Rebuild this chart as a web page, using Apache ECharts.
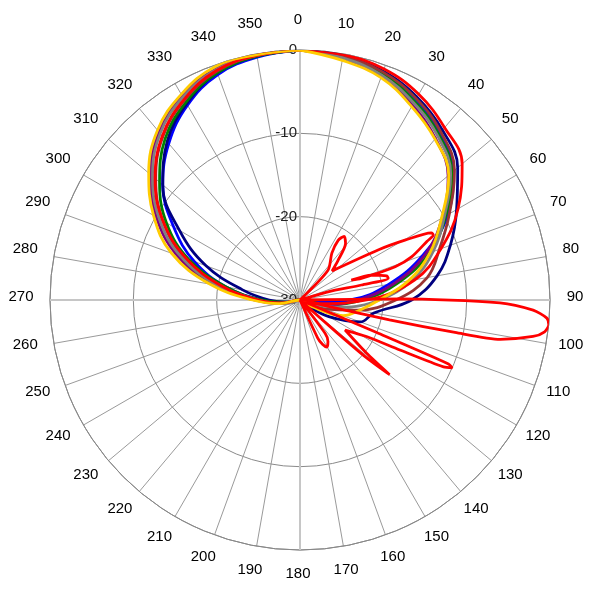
<!DOCTYPE html>
<html><head><meta charset="utf-8">
<script src="https://cdn.jsdelivr.net/npm/echarts@6/dist/echarts.min.js"></script>
<style>html,body{margin:0;padding:0;background:#fff}#c{width:600px;height:600px}</style>
</head><body><div id="c"></div>
<script>
// angles (degrees) for the main-beam traces
const angles = [0,10,20,30,40,50,60,70,80,90,100,110,120,130,140,150,160,170,180,190,200,210,220,230,240,250,260,270,280,290,300,310,320,330,340,350];
// angle tick labels
const angleTicks = angles.slice();
// relative level in dB at each angle
const blueDb   = [0,-0.3,-0.9,-2.2,-3.9,-6.0,-9.5,-14.3,-19.2,-24.0,-28.5,-30,-30,-30,-30,-30,-30,-30,-30,-30,-30,-30,-30,-30,-30,-30,-28.5,-25.5,-21,-16.5,-12.5,-8.5,-5.5,-3.0,-1.2,-0.4];
const navyDb   = [0,-0.2,-0.8,-1.9,-3.4,-5.3,-8.3,-10.8,-13.3,-16.6,-21.0,-22.3,-26,-29,-30,-30,-30,-30,-30,-30,-30,-30,-30,-30,-30,-30,-28.5,-26.3,-23,-18,-13.3,-8.5,-5.2,-2.8,-1.0,-0.3];
const greenDb  = [0,-0.4,-1.1,-2.5,-4.1,-6.2,-9.8,-13.5,-18.0,-22.5,-26.5,-30,-30,-30,-30,-30,-30,-30,-30,-30,-30,-30,-30,-30,-30,-30,-28.5,-25.5,-21,-15.8,-11.5,-8.0,-4.8,-2.6,-1.0,-0.3];
const purpleDb = [0,-0.6,-1.5,-3.0,-4.7,-6.8,-10.3,-14.0,-18.5,-23.0,-26.5,-29,-30,-30,-30,-30,-30,-30,-30,-30,-30,-30,-30,-30,-30,-30,-27.5,-24.5,-19.5,-14.3,-10.1,-6.6,-3.7,-1.7,-0.5,-0.1];
const brownDb  = [0,-0.3,-0.9,-2.1,-3.7,-5.8,-9.3,-12.2,-14.5,-18.5,-23.0,-27.0,-30,-30,-30,-30,-30,-30,-30,-30,-30,-30,-30,-30,-30,-30,-28,-25,-20.5,-15.3,-11.0,-7.4,-4.4,-2.3,-0.8,-0.2];
const grayDb   = [0,-0.5,-1.3,-2.7,-4.3,-6.4,-10.0,-13.0,-16.3,-20.5,-25.0,-28.5,-30,-30,-30,-30,-30,-30,-30,-30,-30,-30,-30,-30,-30,-29,-27.5,-25,-20,-14.8,-10.5,-6.9,-3.9,-1.9,-0.6,-0.2];
const redDb    = [0,-0.1,-0.5,-1.5,-3.0,-4.6,-8.1,-12.0,-16.0,-22.0,-27.5,-30,-30,-30,-30,-30,-30,-30,-30,-30,-30,-30,-30,-30,-30,-30,-28,-25,-20.5,-15.5,-11.0,-7.3,-4.3,-2.2,-0.7,-0.2];
const goldDb   = [0,-0.8,-1.6,-3.2,-4.8,-6.7,-10.4,-13.4,-16.8,-20.5,-22.8,-24.5,-28.5,-30,-30,-30,-30,-30,-30,-30,-30,-30,-30,-30,-30,-30,-27.5,-24.3,-19.0,-13.6,-9.7,-6.3,-3.4,-1.5,-0.2,-0.1];
// multi-lobe red trace, in measured order
const lobeAngles = [0,40,43.3,34.2,32.6,34.7,38.9,43.8,47.8,57.4,60.3,62.9,64.0,65.2,68.8,70.7,70.6,68.9,70.8,74.5,76.2,76.3,73.7,80,88.5,89.4,90.8,92.5,94.2,95.7,97.4,98.9,101.1,101.8,102.5,104,112.8,113,113.3,114,115,116.6,118.8,123.7,128.6,129.8,131,131.5,132,140,143,146,150.3,153,155,158,360];
const lobeDb     = [-30,-30,-25.1,-23.2,-21.5,-20.7,-21.3,-23.4,-24.8,-18.8,-15.5,-12.3,-12.2,-13.2,-15.6,-17.9,-22.2,-23.4,-20.9,-19.2,-19.1,-22.4,-26.5,-30,-30,-18,-6.0,-2.0,-0.3,0,-0.4,-1.7,-5.5,-11,-19,-30,-30,-20,-10.6,-10.0,-11.0,-16.6,-20.9,-23.5,-19.8,-16.0,-19.5,-24,-30,-30,-25,-24,-23.5,-24,-25,-30,-30];
const radiusTicks = [-30,-20,-10,0];

const chart = echarts.init(document.getElementById('c'));
function closed(vals){ const d = angles.map((a,i)=>[vals[i], a]); d.push([vals[0], 360]); return d; }
function mk(name, color, data, smooth){
  return {name:name, type:'line', coordinateSystem:'polar', polarIndex:0, data:data, showSymbol:false, symbol:'none',
    smooth:smooth, lineStyle:{color:color, width:2.8}, itemStyle:{color:color}, animation:false};
}
const FONT = 'Liberation Sans, Arial, sans-serif';
const rMax = radiusTicks[radiusTicks.length-1];
chart.setOption({
  animation:false,
  backgroundColor:'#ffffff',
  polar:[{center:['50%','50%'], radius:250},{center:['50%','50%'], radius:250},{center:[298,297], radius:277}],
  angleAxis:[
    {polarIndex:0, type:'value', min:0, max:360, interval:10, startAngle:90, clockwise:true,
     axisLine:{show:true, lineStyle:{color:'#888', width:1}}, axisTick:{show:false}, axisLabel:{show:false},
     splitLine:{show:true, lineStyle:{color:'#9a9a9a', width:1}}},
    {polarIndex:1, type:'value', min:0, max:360, interval:90, startAngle:90, clockwise:true, z:1,
     axisLine:{show:false}, axisTick:{show:false}, axisLabel:{show:false},
     splitLine:{show:true, lineStyle:{color:'#c6c6c6', width:2}}},
    {polarIndex:2, type:'value', min:0, max:360, interval:10, startAngle:90, clockwise:true, show:false}
  ],
  radiusAxis:[
    {polarIndex:0, type:'value', min:radiusTicks[0], max:rMax, interval:10,
     axisLine:{show:false}, axisTick:{show:false},
     axisLabel:{show:true, margin:3, fontSize:15, color:'#222', fontFamily:FONT},
     splitLine:{show:true, lineStyle:{color:'#8a8a8a', width:1}}},
    {polarIndex:1, type:'value', min:-30, max:0, show:false},
    {polarIndex:2, type:'value', min:-30, max:0, show:false}
  ],
  series:[
    mk('blue','#0000ff',closed(blueDb),0.4),
    mk('navy','#000080',closed(navyDb),0.4),
    mk('green','#008000',closed(greenDb),0.4),
    mk('purple','#800080',closed(purpleDb),0.4),
    mk('brown','#993333',closed(brownDb),0.4),
    mk('gray','#808080',closed(grayDb),0.4),
    mk('red','#ff0000',closed(redDb),0.4),
    mk('gold','#ffcc00',closed(goldDb),0.4),
    mk('redLobes','#ff0000',lobeAngles.map((a,i)=>[lobeDb[i], a]),0.25),
    {name:'angleLabels', type:'scatter', coordinateSystem:'polar', polarIndex:2, silent:true,
     data:angleTicks.map(a=>[rMax, a]), symbolSize:1, itemStyle:{color:'rgba(0,0,0,0)'},
     label:{show:true, position:'inside', align:'center', verticalAlign:'middle', fontSize:15, color:'#000', opacity:1, fontFamily:FONT,
            formatter:p=>String(p.value[1])}}
  ]
});
</script></body></html>
